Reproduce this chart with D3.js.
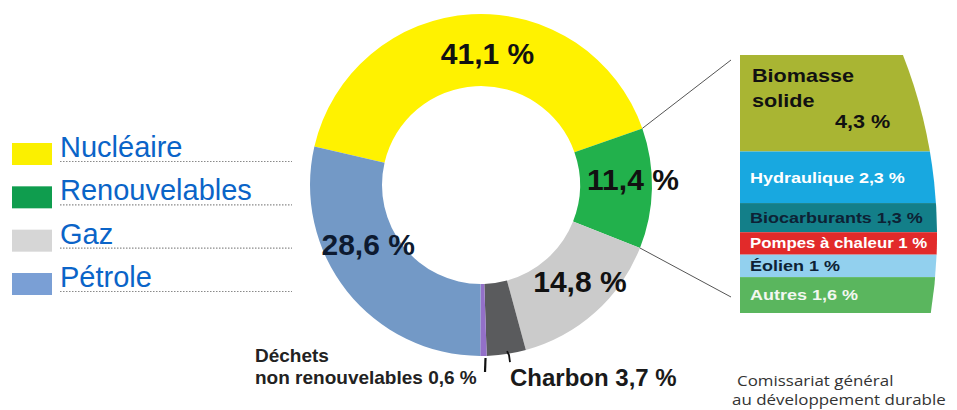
<!doctype html>
<html lang="fr">
<head>
<meta charset="UTF-8">
<title>Consommation d'énergie primaire</title>
<script src="https://d3js.org/d3.v7.min.js"></script>
<style>
  body { margin: 0; background: #fff; }
  svg { display: block; }
</style>
</head>
<body>
<script>
  // data
  var segments = ["Nucléaire", "Renouvelables", "Gaz", "Charbon", "Déchets non renouvelables", "Pétrole"];
  var shares = [41.1, 11.4, 14.8, 3.7, 0.6, 28.6];
  var segmentColors = ["#fff200", "#22b14c", "#cbcbcb", "#5a5b5d", "#9370c8", "#7399c6"];

  var legendNames = ["Nucléaire", "Renouvelables", "Gaz", "Pétrole"];
  var legendColors = ["#fbf000", "#0f9d4e", "#d6d6d6", "#7a9fd5"];

  var renewables = ["Biomasse solide", "Hydraulique", "Biocarburants", "Pompes à chaleur", "Éolien", "Autres"];
  var renewableShares = [4.3, 2.3, 1.3, 1, 1, 1.6];
  var renewableColors = ["#a9b533", "#18a8e0", "#137f89", "#e22a2a", "#92d0ee", "#5ab65e"];
  var renewableText = ["#111", "#fff", "#0d2235", "#fff", "#0d2235", "#f2f7f0"];

  var source = ["Comissariat général", "au développement durable"];

  var width = 957, height = 410;
  var fmt = function(v) { return String(v).replace(".", ",") + " %"; };

  var svg = d3.select("body").append("svg")
      .attr("width", width)
      .attr("height", height)
      .style("font-family", "'Liberation Sans', Arial, sans-serif");

  // ---------- donut
  var cx = 481, cy = 185, rOut = 171, rIn = 99;
  var start = -77 * Math.PI / 180;
  var pie = d3.pie().sort(null).value(function(d) { return d; })
      .startAngle(start).endAngle(start + 2 * Math.PI);
  var arcs = pie(shares);
  var arc = d3.arc().innerRadius(rIn).outerRadius(rOut);

  var donut = svg.append("g").attr("transform", "translate(" + cx + "," + cy + ")");
  donut.selectAll("path.slice")
      .data(arcs)
      .enter().append("path")
      .attr("class", "slice")
      .attr("d", arc)
      .attr("fill", function(d, i) { return segmentColors[i]; });

  // label nudges off the centroid
  var nudge = [[14, 3], [17, -8], [9, -4], null, null, [-7, -24]];
  donut.selectAll("text.pct")
      .data(arcs.filter(function(d, i) { return nudge[i]; }))
      .enter().append("text")
      .attr("class", "pct")
      .attr("x", function(d) { return arc.centroid(d)[0] + nudge[d.index][0]; })
      .attr("y", function(d) { return arc.centroid(d)[1] + nudge[d.index][1]; })
      .attr("dy", "0.35em")
      .attr("text-anchor", "middle")
      .attr("font-size", 30)
      .attr("font-weight", "bold")
      .attr("fill", function(d) { return d.index == 5 ? "#0d1a30" : "#111"; })
      .text(function(d) { return fmt(d.data); });

  function outerPoint(a, r) {
    return [r * Math.sin(a), -r * Math.cos(a)];
  }

  // small leader ticks for the thin slices
  var dech = arcs[4], charb = arcs[3];
  var pd = outerPoint((dech.startAngle + dech.endAngle) / 2, rOut + 2);
  donut.append("line")
      .attr("x1", pd[0] + 2).attr("y1", pd[1])
      .attr("x2", pd[0] + 1.5).attr("y2", pd[1] + 14)
      .attr("stroke", "#111").attr("stroke-width", 2.2);
  var pc = outerPoint((charb.startAngle + charb.endAngle) / 2, rOut - 3);
  donut.append("path")
      .attr("d", "M" + (pc[0] + 1) + "," + pc[1] + " l2,4 l1,7")
      .attr("fill", "none")
      .attr("stroke", "#111").attr("stroke-width", 1.8);

  svg.append("text")
      .attr("x", 255).attr("y", 362)
      .attr("font-size", 19).attr("font-weight", "bold").attr("fill", "#222")
      .text("Déchets");
  svg.append("text")
      .attr("x", 255).attr("y", 384)
      .attr("font-size", 19).attr("font-weight", "bold").attr("fill", "#222")
      .text("non renouvelables " + fmt(shares[4]));
  svg.append("text")
      .attr("x", 510).attr("y", 386)
      .attr("font-size", 24).attr("font-weight", "bold").attr("fill", "#1a1a1a")
      .text(segments[3] + " " + fmt(shares[3]));

  // ---------- legend
  var ly = d3.scalePoint().domain(legendNames).range([143, 273]);
  var legend = svg.append("g");
  legend.selectAll("rect")
      .data(legendNames)
      .enter().append("rect")
      .attr("x", 12).attr("y", function(d) { return ly(d); })
      .attr("width", 40).attr("height", 22)
      .attr("fill", function(d, i) { return legendColors[i]; });
  legend.selectAll("line")
      .data(legendNames)
      .enter().append("line")
      .attr("x1", 60).attr("x2", 292)
      .attr("y1", function(d) { return ly(d) + 18.5; })
      .attr("y2", function(d) { return ly(d) + 18.5; })
      .attr("stroke", "#8a8a8a").attr("stroke-width", 1.2)
      .attr("stroke-dasharray", "1.5,1.5");
  legend.selectAll("text")
      .data(legendNames)
      .enter().append("text")
      .attr("x", 60).attr("y", function(d) { return ly(d) + 14; })
      .attr("font-size", 29)
      .attr("fill", "#0a64c8")
      .text(function(d) { return d; });

  // ---------- renewables breakdown panel
  var px = 740, pRight = 945;
  var total = d3.sum(renewableShares);
  var py = d3.scaleLinear().domain([0, total]).range([55, 313]);
  var ends = d3.cumsum(renewableShares);

  // right edge is an arc centred far to the left
  var ac = [444, 235], ar = 493;
  var xTop = ac[0] + Math.sqrt(ar * ar - Math.pow(py(0) - ac[1], 2));
  var xBot = ac[0] + Math.sqrt(ar * ar - Math.pow(py(total) - ac[1], 2));
  svg.append("clipPath").attr("id", "panelClip")
      .append("path")
      .attr("d", "M" + px + "," + py(0) + " L" + xTop + "," + py(0) +
                 " A" + ar + "," + ar + " 0 0 1 " + xBot + "," + py(total) +
                 " L" + px + "," + py(total) + " Z");

  var panel = svg.append("g").attr("clip-path", "url(#panelClip)");
  panel.selectAll("rect")
      .data(renewableShares)
      .enter().append("rect")
      .attr("x", px).attr("width", pRight - px)
      .attr("y", function(d, i) { return py(ends[i] - d); })
      .attr("height", function(d) { return py(d) - py(0); })
      .attr("fill", function(d, i) { return renewableColors[i]; });

  var labels = svg.append("g").attr("font-weight", "bold");
  renewables.forEach(function(name, i) {
    if (i == 0) return;
    var mid = py(ends[i] - renewableShares[i] / 2);
    labels.append("text")
        .attr("transform", "translate(" + (px + 10) + "," + mid + ") scale(1.2,1)")
        .attr("dy", "0.35em")
        .attr("font-size", i == 3 ? 14 : 15)
        .attr("fill", renewableText[i])
        .text(name + " " + fmt(renewableShares[i]));
  });
  var bio = renewables[0].split(" ");
  labels.append("text")
      .attr("transform", "translate(" + (px + 12) + "," + (py(0) + 27) + ") scale(1.2,1)")
      .attr("font-size", 18).attr("fill", renewableText[0])
      .text(bio[0]);
  labels.append("text")
      .attr("transform", "translate(" + (px + 12) + "," + (py(0) + 52) + ") scale(1.2,1)")
      .attr("font-size", 18).attr("fill", renewableText[0])
      .text(bio[1]);
  labels.append("text")
      .attr("transform", "translate(" + (px + 95) + "," + (py(0) + 73) + ") scale(1.2,1)")
      .attr("font-size", 18).attr("fill", renewableText[0])
      .text(fmt(renewableShares[0]));

  // connector lines from the Renouvelables slice to the panel
  var ren = arcs[1];
  var a1 = outerPoint(ren.startAngle, rOut), a2 = outerPoint(ren.endAngle, rOut);
  svg.append("line")
      .attr("x1", cx + a1[0]).attr("y1", cy + a1[1])
      .attr("x2", px - 9).attr("y2", py(0) + 5)
      .attr("stroke", "#555").attr("stroke-width", 1);
  svg.append("line")
      .attr("x1", cx + a2[0]).attr("y1", cy + a2[1])
      .attr("x2", px - 9).attr("y2", py(total) - 16)
      .attr("stroke", "#555").attr("stroke-width", 1);

  // ---------- source
  var src = svg.append("g")
      .attr("font-family", "'Open Sans', Lato, sans-serif")
      .attr("font-size", 14).attr("fill", "#333");
  src.append("text")
      .attr("transform", "translate(737,386) scale(1.21,1)")
      .text(source[0]);
  src.append("text")
      .attr("transform", "translate(732,405) scale(1.21,1)")
      .text(source[1]);
</script>
</body>
</html>
